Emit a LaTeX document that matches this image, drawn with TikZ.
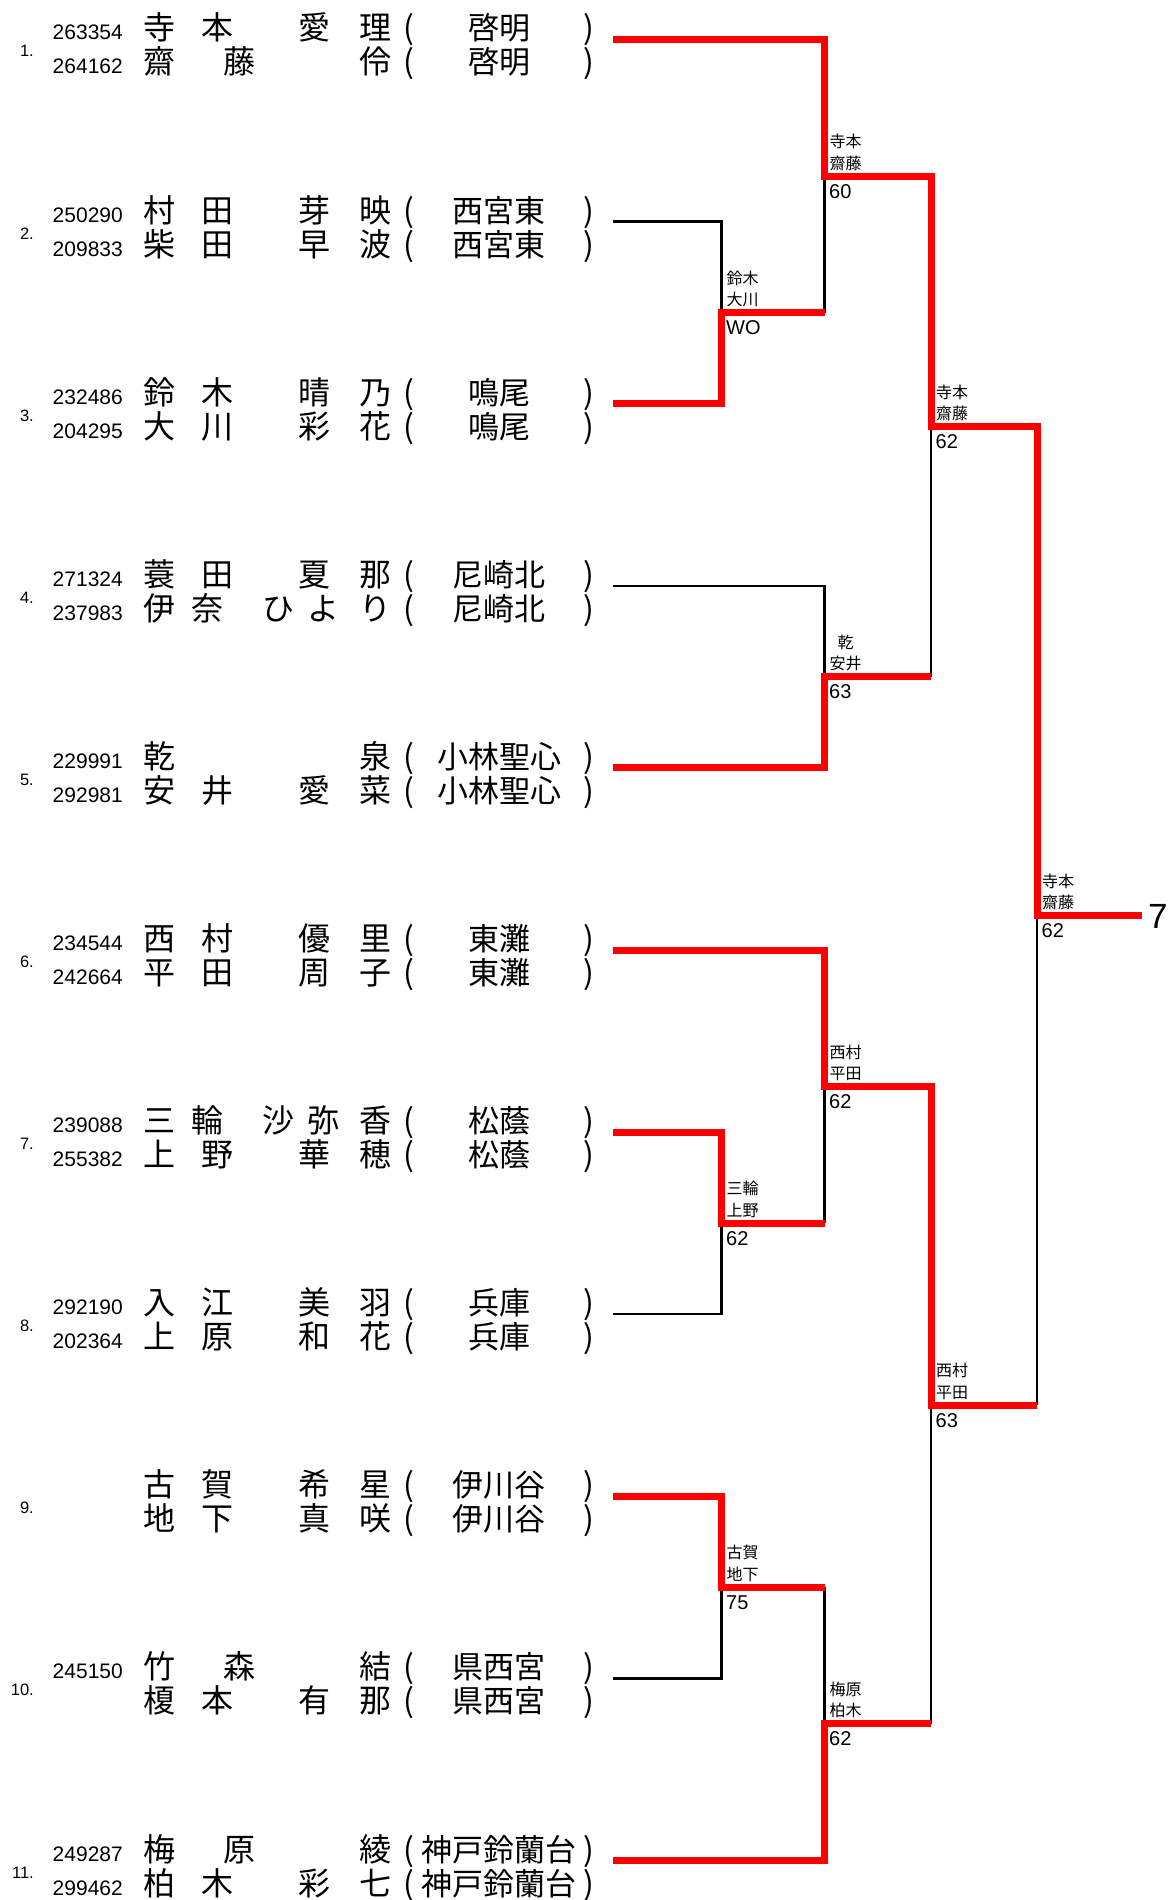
\documentclass[tikz,border=0pt]{standalone}
\usepackage{fontspec}
\newfontfamily\cjk{Noto Sans CJK JP}
\newfontfamily\arial{Liberation Sans}
\newcommand\tEntry[4]{% key, y, number, school
 \pgfmathsetmacro\yb{#2+34}\pgfmathsetmacro\yn{#2+17}
 \node[numf] (num#1) at (34,\yn) {#3};
 \node[par] (opa#1) at (409,#2) {(};
 \node[par] (opb#1) at (409,\yb) {(};
 \node[sch] (sca#1) at (499,#2) {#4};
 \node[sch] (scb#1) at (499,\yb) {#4};
 \node[par] (cpa#1) at (589,#2) {)};
 \node[par] (cpb#1) at (589,\yb) {)};
}
\newcommand\nTT[6]{%
 \node[nm] (#1a) at (159,#2) {#3}; \node[nm] (#1b) at (217,#2) {#4};
 \node[nm] (#1c) at (314,#2) {#5}; \node[nm] (#1d) at (375,#2) {#6};}
\newcommand\nTO[5]{%
 \node[nm] (#1a) at (159,#2) {#3}; \node[nm] (#1b) at (239,#2) {#4};
 \node[nm] (#1c) at (375,#2) {#5};}
\newcommand\nOO[4]{%
 \node[nm] (#1a) at (159,#2) {#3}; \node[nm] (#1b) at (375,#2) {#4};}
\newcommand\nTH[7]{%
 \node[nm] (#1a) at (159,#2) {#3}; \node[nm] (#1b) at (207,#2) {#4};
 \node[nm] (#1c) at (278,#2) {#5}; \node[nm] (#1d) at (323,#2) {#6};
 \node[nm] (#1e) at (375,#2) {#7};}
\newcommand\tLab[5]{% key, junction, line1, line2, score
 \node[lab] (la#1) at ([shift={(5,-28.5)}]#2) {#3};
 \node[lab] (lb#1) at ([shift={(5,-7)}]#2) {#4};
 \node[scr] (sc#1) at ([shift={(4.5,22)}]#2) {#5};}
\begin{document}
\begin{tikzpicture}[x=1pt,y=-1pt,
 nm/.style={font=\cjk\fontsize{32}{32}\selectfont,anchor=base,inner sep=0pt},
 sch/.style={font=\cjk\fontsize{31}{31}\selectfont,anchor=base,inner sep=0pt},
 par/.style={font=\cjk\fontsize{32}{32}\selectfont,anchor=base,inner sep=0pt},
 idf/.style={font=\arial\fontsize{21}{21}\selectfont,anchor=base east,inner sep=0pt},
 numf/.style={font=\arial\fontsize{16.5}{16.5}\selectfont,anchor=base east,inner sep=0pt},
 lab/.style={font=\cjk\fontsize{16}{16}\selectfont,anchor=base west,inner sep=0pt},
 labc/.style={font=\cjk\fontsize{16}{16}\selectfont,anchor=base,inner sep=0pt},
 scr/.style={font=\arial\fontsize{20}{20}\selectfont,anchor=base west,inner sep=0pt},
 fin/.style={font=\arial\fontsize{35}{35}\selectfont,anchor=base west,inner sep=0pt},
 redl/.style={draw=red,line width=7pt,line join=miter},
 blk/.style={draw=black,line width=2.5pt,line join=miter}]
\useasboundingbox (0,0) rectangle (1168,1900);
\fill[white] (0,0) rectangle (1168,1900);

% ---------- entries ----------
\tEntry{1}{40}{1.}{啓明}
\node[idf] (ida1) at (123,40) {263354};
\node[idf] (idb1) at (123,74) {264162};
\nTT{na1}{40}{寺}{本}{愛}{理}
\nTO{nb1}{74}{齋}{藤}{伶}

\tEntry{2}{222.1}{2.}{西宮東}
\node[idf] (ida2) at (123,222.1) {250290};
\node[idf] (idb2) at (123,256.1) {209833};
\nTT{na2}{222.1}{村}{田}{芽}{映}
\nTT{nb2}{256.1}{柴}{田}{早}{波}

\tEntry{3}{404.2}{3.}{鳴尾}
\node[idf] (ida3) at (123,404.2) {232486};
\node[idf] (idb3) at (123,438.2) {204295};
\nTT{na3}{404.2}{鈴}{木}{晴}{乃}
\nTT{nb3}{438.2}{大}{川}{彩}{花}

\tEntry{4}{586.3}{4.}{尼崎北}
\node[idf] (ida4) at (123,586.3) {271324};
\node[idf] (idb4) at (123,620.3) {237983};
\nTT{na4}{586.3}{蓑}{田}{夏}{那}
\nTH{nb4}{620.3}{伊}{奈}{ひ}{よ}{り}

\tEntry{5}{768.4}{5.}{小林聖心}
\node[idf] (ida5) at (123,768.4) {229991};
\node[idf] (idb5) at (123,802.4) {292981};
\nOO{na5}{768.4}{乾}{泉}
\nTT{nb5}{802.4}{安}{井}{愛}{菜}

\tEntry{6}{950.5}{6.}{東灘}
\node[idf] (ida6) at (123,950.5) {234544};
\node[idf] (idb6) at (123,984.5) {242664};
\nTT{na6}{950.5}{西}{村}{優}{里}
\nTT{nb6}{984.5}{平}{田}{周}{子}

\tEntry{7}{1132.6}{7.}{松蔭}
\node[idf] (ida7) at (123,1132.6) {239088};
\node[idf] (idb7) at (123,1166.6) {255382};
\nTH{na7}{1132.6}{三}{輪}{沙}{弥}{香}
\nTT{nb7}{1166.6}{上}{野}{華}{穂}

\tEntry{8}{1314.7}{8.}{兵庫}
\node[idf] (ida8) at (123,1314.7) {292190};
\node[idf] (idb8) at (123,1348.7) {202364};
\nTT{na8}{1314.7}{入}{江}{美}{羽}
\nTT{nb8}{1348.7}{上}{原}{和}{花}

\tEntry{9}{1496.8}{9.}{伊川谷}
\nTT{na9}{1496.8}{古}{賀}{希}{星}
\nTT{nb9}{1530.8}{地}{下}{真}{咲}

\tEntry{10}{1678.9}{10.}{県西宮}
\node[idf] (ida10) at (123,1678.9) {245150};
\nTO{na10}{1678.9}{竹}{森}{結}
\nTT{nb10}{1712.9}{榎}{本}{有}{那}

\tEntry{11}{1861}{11.}{神戸鈴蘭台}
\node[idf] (ida11) at (123,1861) {249287};
\node[idf] (idb11) at (123,1895) {299462};
\nTO{na11}{1861}{梅}{原}{綾}
\nTT{nb11}{1895}{柏}{木}{彩}{七}

% ---------- bracket coordinates ----------
\coordinate (s1) at (613,39.5);
\coordinate (s2) at (613,221.6);
\coordinate (s3) at (613,403.7);
\coordinate (s4) at (613,585.8);
\coordinate (s5) at (613,767.9);
\coordinate (s6) at (613,950.0);
\coordinate (s7) at (613,1132.1);
\coordinate (s8) at (613,1314.2);
\coordinate (s9) at (613,1496.3);
\coordinate (s10) at (613,1678.4);
\coordinate (s11) at (613,1860.5);
\coordinate (jA) at (721.5,312.65);
\coordinate (jB) at (824.5,176.1);
\coordinate (jC) at (824.5,676.85);
\coordinate (jD) at (931,426.5);
\coordinate (jE) at (721.5,1223.15);
\coordinate (jF) at (824.5,1086.6);
\coordinate (jG) at (721.5,1587.35);
\coordinate (jH) at (824.5,1723.9);
\coordinate (jI) at (931,1405.25);
\coordinate (jK) at (1037,915.9);
\coordinate (end) at (1142,915.9);

% ---------- losers (black) ----------
\draw[blk] (s2) -| (jA);
\draw[blk] (jB) -- (jA -| jB);
\draw[blk] (s4) -| (jC);
\draw[blk] (jD) -- (jC -| jD);
\draw[blk] (s8) -| (jE);
\draw[blk] (jF) -- (jE -| jF);
\draw[blk] (s10) -| (jG);
\draw[blk] (jG -| jH) -- (jH);
\draw[blk] (jI) -- (jH -| jI);
\draw[blk] (jK) -- (jI -| jK);

% ---------- winners (red) ----------
\draw[redl] (s1) -| (jB) -| (jD) -| (jK) -- (end);
\draw[redl] (s3) -| (jA) -- (jA -| jB);
\draw[redl] (s5) -| (jC) -- (jC -| jD);
\draw[redl] (s6) -| (jF) -| (jI) -- (jI -| jK);
\draw[redl] (s7) -| (jE) -- (jE -| jF);
\draw[redl] (s9) -| (jG) -- (jG -| jH);
\draw[redl] (s11) -| (jH) -- (jH -| jI);

% ---------- labels ----------
\tLab{A}{jA}{鈴木}{大川}{WO}
\tLab{B}{jB}{寺本}{齋藤}{60}
\node[labc] (laC) at ([shift={(21,-28.5)}]jC) {乾};
\node[lab] (lbC) at ([shift={(5,-7)}]jC) {安井};
\node[scr] (scC) at ([shift={(4.5,22)}]jC) {63};
\tLab{D}{jD}{寺本}{齋藤}{62}
\tLab{E}{jE}{三輪}{上野}{62}
\tLab{F}{jF}{西村}{平田}{62}
\tLab{G}{jG}{古賀}{地下}{75}
\tLab{H}{jH}{梅原}{柏木}{62}
\tLab{I}{jI}{西村}{平田}{63}
\tLab{K}{jK}{寺本}{齋藤}{62}
\node[fin] (final) at (1148,928) {7};
\end{tikzpicture}
\end{document}
